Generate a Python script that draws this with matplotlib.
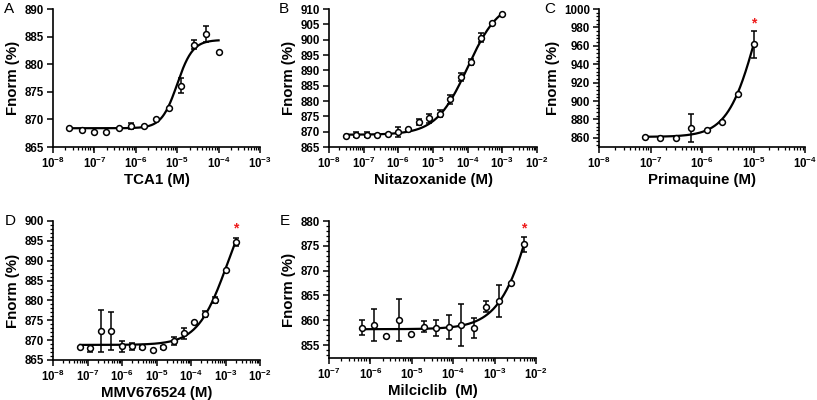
import numpy as np
import matplotlib
matplotlib.use('Agg')
import matplotlib.pyplot as plt
from matplotlib.ticker import LogLocator, FuncFormatter, MultipleLocator, AutoMinorLocator, NullFormatter

plt.rcParams['font.family'] = ['Liberation Sans', 'DejaVu Sans']
plt.rcParams['mathtext.fontset'] = 'custom'
plt.rcParams['mathtext.rm'] = 'Liberation Sans'
plt.rcParams['mathtext.bf'] = 'Liberation Sans:bold'

# ----------------- data -----------------
# A: TCA1
tca1_conc = [2.44e-8, 4.88e-8, 9.77e-8, 1.95e-7, 3.91e-7, 7.81e-7, 1.56e-6,
             3.13e-6, 6.25e-6, 1.25e-5, 2.5e-5, 5e-5, 1e-4]
tca1_fnorm = [868.4, 868.0, 867.8, 867.7, 868.4, 868.8, 868.8,
              870.1, 872.0, 876.1, 883.5, 885.5, 882.3]
tca1_err = [0, 0, 0, 0, 0, 0.5, 0, 0, 0, 1.4, 0.8, 1.5, 0]
tca1_fit = (868.4, 884.4, 1.0e-5, 2.3)   # bottom, top, EC50, hill

# B: Nitazoxanide
nita_conc = [3.05e-8, 6.1e-8, 1.22e-7, 2.44e-7, 4.88e-7, 9.77e-7, 1.95e-6, 3.91e-6,
             7.81e-6, 1.56e-5, 3.13e-5, 6.25e-5, 1.25e-4, 2.5e-4, 5e-4, 1e-3]
nita_fnorm = [868.6, 869.0, 869.0, 868.8, 869.4, 869.9, 871.0, 873.1,
              874.3, 875.9, 880.6, 887.8, 892.8, 900.7, 905.3, 908.4]
nita_err = [0, 0.8, 0.8, 0, 0, 1.5, 0, 0.9, 1.5, 1.2, 1.5, 1.3, 0.9, 1.6, 0, 0]
nita_fit = (869.0, 913.0, 1.0e-4, 0.95)

# C: Primaquine
prim_conc = [7.81e-8, 1.56e-7, 3.13e-7, 6.25e-7, 1.25e-6, 2.5e-6, 5e-6, 1e-5]
prim_fnorm = [860.4, 860.0, 860.0, 870.5, 868.0, 876.7, 907.3, 961.5]
prim_err = [0, 0, 0, 15.0, 0, 0, 0, 14.5]
prim_fit = (861.0, 1100.0, 1.245e-5, 1.5)
prim_star = 984.0

# D: MMV676524
mmv_conc = [6.1e-8, 1.22e-7, 2.44e-7, 4.88e-7, 9.77e-7, 1.95e-6, 3.91e-6, 7.81e-6,
            1.56e-5, 3.13e-5, 6.25e-5, 1.25e-4, 2.5e-4, 5e-4, 1e-3, 2e-3]
mmv_fnorm = [868.3, 867.9, 872.3, 872.3, 868.4, 868.4, 868.3, 867.6,
             868.2, 869.8, 871.7, 874.6, 876.6, 880.1, 887.7, 894.8]
mmv_err = [0, 0.8, 5.4, 4.9, 1.4, 0.8, 0.5, 0, 0.4, 1.0, 1.3, 0, 0.8, 0.8, 0, 1.0]
mmv_fit = (868.8, 910.0, 1.15e-3, 1.0)
mmv_star = 898.2

# E: Milciclib
milc_conc = [6.1e-7, 1.22e-6, 2.44e-6, 4.88e-6, 9.77e-6, 1.95e-5, 3.91e-5,
             7.81e-5, 1.56e-4, 3.13e-4, 6.25e-4, 1.25e-3, 2.5e-3, 5e-3]
milc_fnorm = [858.5, 859.0, 856.9, 860.0, 857.2, 858.7, 858.5,
              858.7, 859.0, 858.4, 862.7, 863.9, 867.6, 875.3]
milc_err = [1.5, 3.2, 0, 4.2, 0, 1.1, 1.6, 2.4, 4.2, 2.0, 1.1, 3.2, 0, 1.5]
milc_fit = (858.2, 917.0, 1.25e-2, 1.0)
milc_star = 878.5

W, H = 817, 400


def rect(l, r, t, b):
    return [l / W, 1 - b / H, (r - l) / W, (b - t) / H]


def sci_label(v, pos):
    e = int(round(np.log10(v)))
    return r'$\mathbf{10^{%d}}$' % e


def hill(x, p):
    bottom, top, ec50, h = p
    return bottom + (top - bottom) / (1 + (ec50 / x) ** h)


def panel(ax, conc, fnorm, err, fit, xlabel, xlim, ylim, yticks, yminor, star=None):
    xs = np.logspace(np.log10(conc[0]), np.log10(conc[-1]), 300)
    ax.plot(xs, hill(xs, fit), color='black', lw=1.6, zorder=2)
    err = np.array(err)
    ax.errorbar(conc, fnorm, yerr=np.where(err > 0, err, np.nan), fmt='none',
                ecolor='black', elinewidth=1.1, capsize=2.3, capthick=1.1, zorder=3)
    ax.plot(conc, fnorm, 'o', ms=4.2, mfc='white', mec='black', mew=1.1, zorder=4)
    if star is not None:
        ax.text(conc[-1], star, '*', color='#ee1c1c', ha='center', va='center',
                fontsize=10, fontweight='bold')

    ax.set_xscale('log')
    ax.set_xlim(*xlim)
    ax.set_ylim(*ylim)
    ax.xaxis.set_major_locator(LogLocator(base=10, numticks=20))
    ax.xaxis.set_minor_locator(LogLocator(base=10, subs=np.arange(2, 10), numticks=20))
    ax.xaxis.set_major_formatter(FuncFormatter(sci_label))
    ax.xaxis.set_minor_formatter(NullFormatter())
    ax.set_yticks(yticks)
    if yminor:
        ax.yaxis.set_minor_locator(AutoMinorLocator(yminor))

    for s in ['top', 'right']:
        ax.spines[s].set_visible(False)
    for s in ['left', 'bottom']:
        ax.spines[s].set_linewidth(1.2)
    ax.tick_params(which='major', direction='out', length=4.5, width=1.1,
                   labelsize=8.3, pad=2)
    ax.tick_params(which='minor', direction='out', length=2.5, width=0.9)
    for lab in ax.get_yticklabels():
        lab.set_fontweight('bold')

    ax.set_xlabel(xlabel, fontsize=10.8, fontweight='bold', labelpad=1)
    ax.set_ylabel('Fnorm (%)', fontsize=10.8, fontweight='bold', labelpad=3)


fig = plt.figure(figsize=(8.17, 4.0), dpi=100)

axA = fig.add_axes(rect(53, 260, 9, 147))
panel(axA, tca1_conc, tca1_fnorm, tca1_err, tca1_fit, 'TCA1 (M)',
      (1e-8, 1e-3), (865, 890), np.arange(865, 891, 5), None)

axB = fig.add_axes(rect(329, 537, 9, 147))
panel(axB, nita_conc, nita_fnorm, nita_err, nita_fit, 'Nitazoxanide (M)',
      (1e-8, 1e-2), (865, 910), np.arange(865, 911, 5), None)

axC = fig.add_axes(rect(599, 805, 9, 147))
panel(axC, prim_conc, prim_fnorm, prim_err, prim_fit, 'Primaquine (M)',
      (1e-8, 1e-4), (850, 1000), np.arange(860, 1001, 20), 5, star=prim_star)

axD = fig.add_axes(rect(53, 260, 221, 360))
panel(axD, mmv_conc, mmv_fnorm, mmv_err, mmv_fit, 'MMV676524 (M)',
      (1e-8, 1e-2), (865, 900), np.arange(865, 901, 5), 5, star=mmv_star)

axE = fig.add_axes(rect(329, 536, 221, 358))
panel(axE, milc_conc, milc_fnorm, milc_err, milc_fit, 'Milciclib  (M)',
      (1e-7, 1e-2), (852.4, 880), np.arange(855, 881, 5), 5, star=milc_star)

for lab, (px, py) in zip('ABCDE', [(9, 9), (284, 9), (550, 9), (10, 221), (285, 221)]):
    fig.text(px / W, 1 - py / H, lab, fontsize=11, ha='center', va='center')

fig.savefig('out.png', dpi=100)
